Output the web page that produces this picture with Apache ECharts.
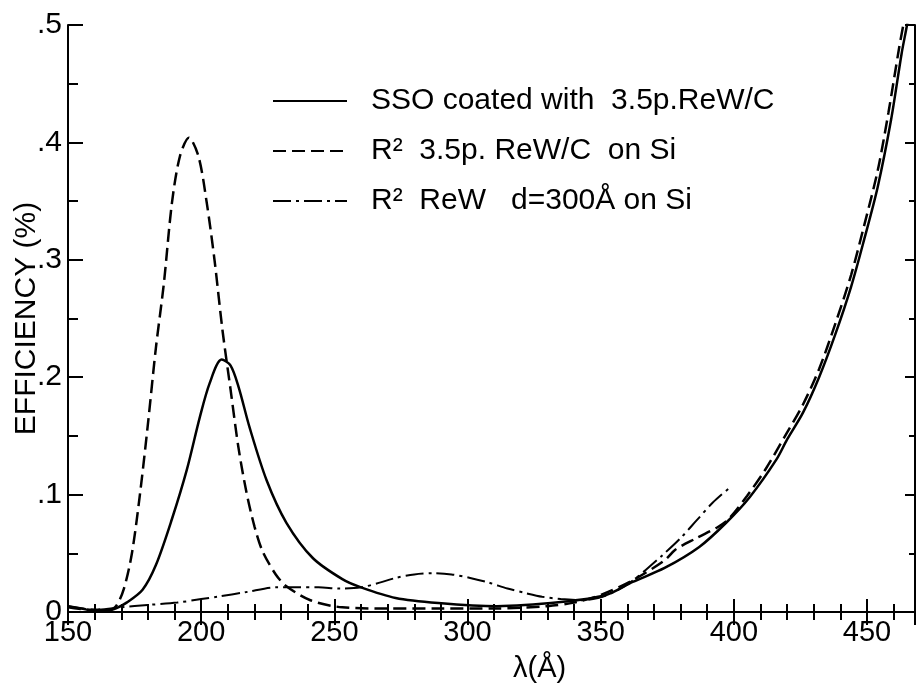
<!DOCTYPE html>
<html>
<head>
<meta charset="utf-8">
<script src="https://cdn.jsdelivr.net/npm/echarts@6/dist/echarts.min.js"></script>
<style>
  html, body { margin: 0; padding: 0; background: #fff; }
  #main { width: 916px; height: 683px; }
</style>
</head>
<body>
<div id="main"></div>
<script>
// wavelength (Å) / efficiency (%)
var ssoX = [150, 155, 160, 165, 168, 172, 178, 183, 189, 194.6, 199.5, 203.2, 207.7, 211, 214, 218.2, 224.6, 232, 241.9, 253, 260, 273, 289, 311, 335, 352, 362, 374, 387, 397, 406, 416, 420, 426, 432, 438, 444, 449, 454, 459, 463, 465, 468];
var ssoY = [0.005, 0.003, 0.001, 0.001, 0.003, 0.008, 0.019, 0.04, 0.079, 0.121, 0.166, 0.195, 0.215, 0.21, 0.192, 0.157, 0.112, 0.076, 0.046, 0.028, 0.021, 0.012, 0.0077, 0.005, 0.0085, 0.0145, 0.0256, 0.0375, 0.0554, 0.0758, 0.098, 0.13, 0.147, 0.17, 0.2, 0.236, 0.277, 0.318, 0.362, 0.419, 0.476, 0.5, 0.54];

var r2ReWCX = [150, 158, 165, 168, 171, 174, 177, 180, 183, 186, 189, 192, 195.4, 199, 202, 205, 208, 211, 214, 217, 220, 223, 228, 232, 241, 253, 270, 290, 310, 330, 340, 350, 362, 374, 378, 386, 394, 398, 405, 412, 420, 426, 432, 438, 444, 449, 454, 458, 462, 464, 468];
var r2ReWCY = [0.004, 0.002, 0.002, 0.005, 0.02, 0.05, 0.1, 0.16, 0.225, 0.28, 0.348, 0.388, 0.404, 0.388, 0.35, 0.3, 0.24, 0.19, 0.14, 0.102, 0.073, 0.052, 0.032, 0.022, 0.010, 0.004, 0.003, 0.003, 0.003, 0.005, 0.008, 0.0145, 0.027, 0.044, 0.053, 0.063, 0.0724, 0.079, 0.099, 0.122, 0.153, 0.177, 0.207, 0.245, 0.287, 0.33, 0.376, 0.425, 0.48, 0.505, 0.56];

var r2ReWX = [150, 160, 170, 180, 191, 200, 206, 217, 228, 236, 244, 252, 260, 267, 273, 280, 287, 294, 301, 308, 315, 322, 328, 335, 343, 349, 354, 361, 367, 373, 380, 386, 392, 399];
var r2ReWY = [0.005, 0.002, 0.004, 0.006, 0.008, 0.011, 0.013, 0.017, 0.021, 0.021, 0.021, 0.020, 0.021, 0.025, 0.029, 0.032, 0.033, 0.032, 0.029, 0.025, 0.020, 0.016, 0.013, 0.011, 0.010, 0.012, 0.016, 0.025, 0.036, 0.048, 0.063, 0.078, 0.093, 0.107];

var seriesNames = ['SSO coated with  3.5p.ReW/C', 'R²  3.5p. ReW/C  on Si', 'R²  ReW   d=300Å on Si'];
var yTickLabels = ['0', '.1', '.2', '.3', '.4', '.5'];

var FONT = 'Liberation Sans, Arial, sans-serif';

function pairs(xs, ys) {
  return xs.map(function (x, i) { return [x, ys[i]]; });
}

var chart = echarts.init(document.getElementById('main'));

var tickStyle = { color: '#000', width: 2 };

var option = {
  backgroundColor: '#fff',
  animation: false,
  grid: { left: 68, right: 1, top: 25, bottom: 71, outerBoundsMode: 'none', containLabel: false },
  legend: {
    orient: 'vertical',
    left: 272,
    top: 86,
    padding: 0,
    itemWidth: 74,
    itemHeight: 30,
    itemGap: 20,
    data: seriesNames,
    itemStyle: { opacity: 0 },
    textStyle: {
      fontSize: 30,
      color: '#000',
      fontFamily: FONT,
      padding: [0, 0, 0, 19]
    }
  },
  graphic: [{
    type: 'text',
    left: 513,
    top: 654,
    style: { text: 'λ(Å)', fontSize: 29, fill: '#000', fontFamily: FONT }
  }],
  xAxis: [{
    type: 'value',
    position: 'bottom',
    min: 150,
    max: 468,
    interval: 50,
    axisLine: { lineStyle: { color: '#000', width: 2 } },
    axisTick: { inside: true, length: 13, lineStyle: tickStyle },
    minorTick: { show: true, splitNumber: 5, length: 8, lineStyle: tickStyle },
    splitLine: { show: false },
    axisLabel: { color: '#000', fontSize: 29, fontFamily: FONT, margin: 6, showMaxLabel: false }
  }, {
    type: 'value',
    position: 'top',
    min: 150,
    max: 468,
    interval: 50,
    axisLine: { lineStyle: { color: '#000', width: 2 } },
    axisTick: { inside: true, length: 13, lineStyle: tickStyle },
    minorTick: { show: true, splitNumber: 5, length: 8, lineStyle: tickStyle },
    splitLine: { show: false },
    axisLabel: { show: false }
  }],
  yAxis: [{
    type: 'value',
    position: 'left',
    min: 0,
    max: 0.5,
    interval: 0.1,
    name: 'EFFICIENCY (%)',
    nameLocation: 'middle',
    nameGap: 26,
    nameMoveOverlap: false,
    nameTextStyle: { color: '#000', fontSize: 30, fontFamily: FONT },
    axisLine: { lineStyle: { color: '#000', width: 2 } },
    axisTick: { inside: true, length: 15, lineStyle: tickStyle },
    minorTick: { show: true, splitNumber: 2, length: 10, lineStyle: tickStyle },
    splitLine: { show: false },
    axisLabel: {
      color: '#000', fontSize: 30, fontFamily: FONT, margin: 6,
      formatter: function (v) { return yTickLabels[Math.round(v * 10)]; }
    }
  }, {
    type: 'value',
    position: 'right',
    min: 0,
    max: 0.5,
    interval: 0.1,
    axisLine: { show: true, lineStyle: { color: '#000', width: 2 } },
    axisTick: { inside: true, length: 10, lineStyle: tickStyle },
    minorTick: { show: true, splitNumber: 2, length: 6, lineStyle: tickStyle },
    splitLine: { show: false },
    axisLabel: { show: false }
  }],
  series: [{
    name: seriesNames[0],
    type: 'line',
    symbol: 'none',
    smooth: 0.3,
    data: pairs(ssoX, ssoY),
    lineStyle: { color: '#000', width: 2.5, type: 'solid' },
    itemStyle: { color: '#000' }
  }, {
    name: seriesNames[1],
    type: 'line',
    symbol: 'none',
    smooth: 0.3,
    data: pairs(r2ReWCX, r2ReWCY),
    lineStyle: { color: '#000', width: 2.5, type: [13, 6] },
    itemStyle: { color: '#000' }
  }, {
    name: seriesNames[2],
    type: 'line',
    symbol: 'none',
    smooth: 0.3,
    data: pairs(r2ReWX, r2ReWY),
    lineStyle: { color: '#000', width: 2, type: [18, 5, 3, 5] },
    itemStyle: { color: '#000' }
  }]
};

chart.setOption(option);
</script>
</body>
</html>
